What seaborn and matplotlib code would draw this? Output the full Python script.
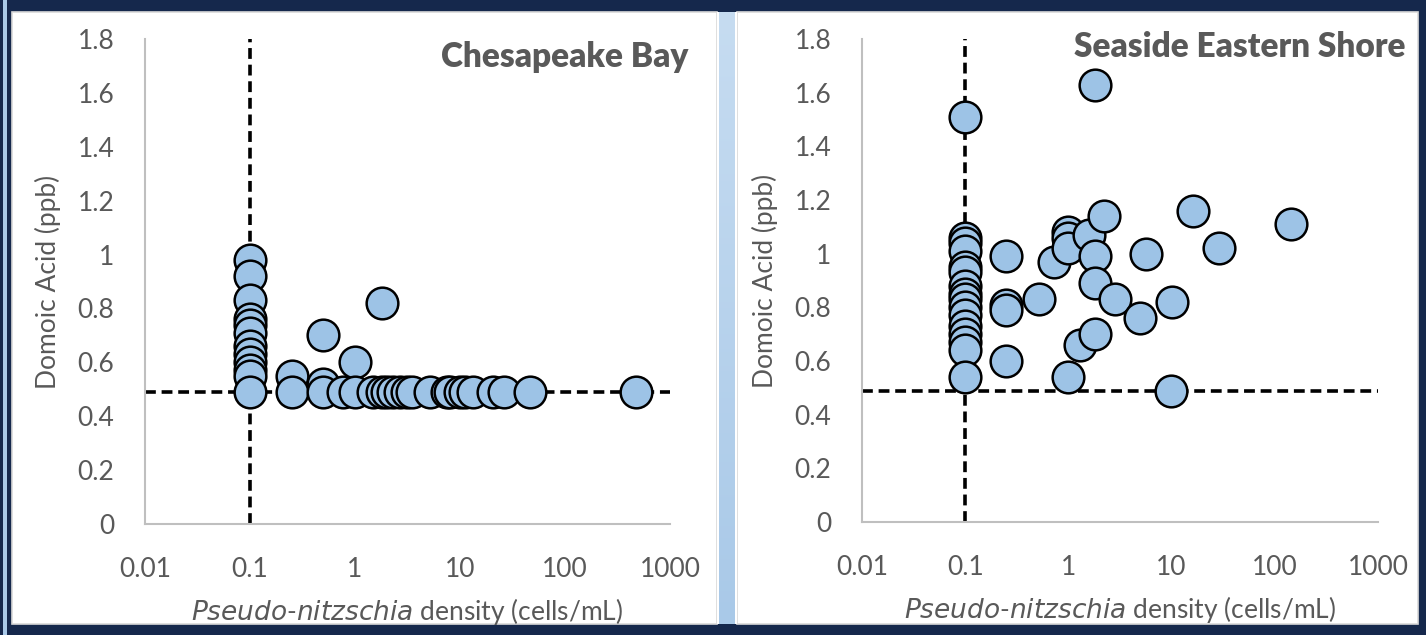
import numpy as np
import pandas as pd
import seaborn as sns
import matplotlib.pyplot as plt
from matplotlib.patches import Rectangle

# Chesapeake Bay: Pseudo-nitzschia density (cells/mL) vs domoic acid (ppb)
bay_density = [0.1, 0.1, 0.1, 0.1, 0.1, 0.1, 0.1, 0.1, 0.1, 0.1, 0.1, 0.1,
               0.25, 0.25, 0.5, 0.5, 0.5, 0.77, 1.0, 1.0, 1.5, 1.8, 1.8,
               2.0, 2.3, 2.7, 3.1, 3.5, 5.2, 7.5, 8.0, 10, 11.2, 13.3,
               20.6, 26, 46, 470]
bay_domoic = [0.98, 0.92, 0.83, 0.76, 0.74, 0.71, 0.66, 0.63, 0.60, 0.57, 0.55, 0.49,
              0.55, 0.49, 0.70, 0.52, 0.49, 0.49, 0.60, 0.49, 0.49, 0.82, 0.49,
              0.49, 0.49, 0.49, 0.49, 0.49, 0.49, 0.49, 0.49, 0.49, 0.49, 0.49,
              0.49, 0.49, 0.49, 0.49]

# Seaside Eastern Shore
sea_density = [0.1, 0.1, 0.1, 0.1, 0.1, 0.1, 0.1, 0.1, 0.1, 0.1, 0.1, 0.1, 0.1, 0.1, 0.1, 0.1,
               0.25, 0.25, 0.25, 0.25, 0.52, 0.72, 1.0, 1.0, 1.0, 1.0, 1.3, 1.6,
               1.8, 1.8, 1.8, 1.8, 2.2, 2.8, 4.9, 5.6, 9.8, 10, 16, 29, 145]
sea_domoic = [1.51, 1.06, 1.04, 1.01, 0.95, 0.93, 0.88, 0.85, 0.83, 0.80, 0.77, 0.73, 0.70, 0.67, 0.64, 0.54,
              0.99, 0.81, 0.79, 0.60, 0.83, 0.97, 1.08, 1.06, 1.02, 0.54, 0.66, 1.07,
              1.63, 0.99, 0.89, 0.70, 1.14, 0.83, 0.76, 1.00, 0.49, 0.82, 1.16, 1.02, 1.11]

threshold_density = 0.1
threshold_domoic = 0.49

x_ticks = [0.01, 0.1, 1, 10, 100, 1000]
x_labels = ['0.01', '0.1', '1', '10', '100', '1000']
y_ticks = [0, 0.2, 0.4, 0.6, 0.8, 1.0, 1.2, 1.4, 1.6, 1.8]
y_labels = ['0', '0.2', '0.4', '0.6', '0.8', '1', '1.2', '1.4', '1.6', '1.8']

sns.set_theme(style='white')
plt.rcParams['font.family'] = ['Lato', 'DejaVu Sans']

W, H = 1426, 635
navy = '#15284c'
gray_text = '#595959'

fig = plt.figure(figsize=(W / 100, H / 100), dpi=100, facecolor=navy)


def px_rect(x0, y0, x1, y1, **kw):
    # rectangle given in pixel coords measured from the top left
    r = Rectangle((x0 / W, 1 - y1 / H), (x1 - x0) / W, (y1 - y0) / H,
                  transform=fig.transFigure, figure=fig, zorder=-10, **kw)
    fig.patches.append(r)


px_rect(3, 0, 7, H, color='#a9c9e8', lw=0)
px_rect(12, 12, 717, 624, facecolor='white', edgecolor='#d9d9d9', lw=1.2)
px_rect(737, 12, 1418, 624, facecolor='white', edgecolor='#d9d9d9', lw=1.2)
px_rect(717, 12, 737, 624, color='white', lw=0)

# light blue separator strip with a soft vertical gradient
strip = fig.add_axes([719 / W, 1 - 624 / H, 16 / W, 612 / H])
grad = np.linspace(0, 1, 256).reshape(-1, 1)
strip.imshow(grad, aspect='auto', cmap=sns.blend_palette(['#c6dcf1', '#a9c9e8'], as_cmap=True))
strip.set_axis_off()

panels = [
    ([145, 39, 670, 524], bay_density, bay_domoic, 'Chesapeake Bay', (688, 57)),
    ([862, 39, 1378, 522], sea_density, sea_domoic, 'Seaside Eastern Shore', (1405, 47)),
]

for (x0, y0, x1, y1), dens, da, title, (tx, ty) in panels:
    ax = fig.add_axes([x0 / W, 1 - y1 / H, (x1 - x0) / W, (y1 - y0) / H])
    ax.set_facecolor('none')
    ax.set_xscale('log')
    ax.set_xlim(0.01, 1000)
    ax.set_ylim(0, 1.8)

    ax.axhline(threshold_domoic, color='black', lw=2.6, dashes=(3.0, 1.6), zorder=2)
    ax.axvline(threshold_density, color='black', lw=2.6, dashes=(3.0, 1.6), zorder=2)

    df = pd.DataFrame({'density': dens, 'domoic': da})
    sns.scatterplot(data=df, x='density', y='domoic', ax=ax, s=520,
                    color='#9dc3e6', edgecolor='black', linewidth=1.8,
                    zorder=3, legend=False, clip_on=False)

    ax.set_xticks(x_ticks)
    ax.set_xticklabels(x_labels)
    ax.minorticks_off()
    ax.set_yticks(y_ticks)
    ax.set_yticklabels(y_labels)
    ax.tick_params(axis='both', length=0, labelsize=19, colors=gray_text)
    ax.tick_params(axis='y', pad=22)
    ax.tick_params(axis='x', pad=24)

    for side in ['top', 'right']:
        ax.spines[side].set_visible(False)
    for side in ['left', 'bottom']:
        ax.spines[side].set_color('#bfbfbf')
        ax.spines[side].set_linewidth(1.5)

    ax.set_ylabel('Domoic Acid (ppb)', fontsize=19, color=gray_text, labelpad=12)
    ax.set_xlabel(r'$\it{Pseudo}$-$\it{nitzschia}$ density (cells/mL)',
                  fontsize=19, color=gray_text, labelpad=10)

    fig.text(tx / W, 1 - ty / H, title, ha='right', va='center',
             fontsize=24, fontweight='heavy', color=gray_text)

fig.savefig('out.png', dpi=100, facecolor=navy)
